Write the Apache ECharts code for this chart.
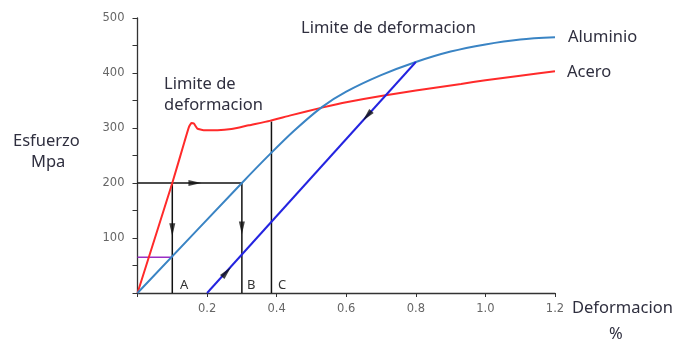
<!DOCTYPE html>
<html><head><meta charset="utf-8">
<script src="https://cdn.jsdelivr.net/npm/echarts@6/dist/echarts.min.js"></script>
<style>html,body{margin:0;padding:0;background:#fff}#c{width:673px;height:343px}</style>
</head><body><div id="c"></div>
<script>
// Acero (steel) stress-strain curve: [strain %, stress MPa]
const aceroX = [0, 0.1, 0.135, 0.148, 0.155, 0.162, 0.172, 0.19, 0.23, 0.27, 0.32, 0.38, 0.44, 0.53, 0.6, 0.7, 0.8, 0.93, 1.0, 1.1, 1.2];
const aceroY = [0, 200, 275, 302, 309, 308, 299, 296, 296, 298, 305, 313, 323, 337, 347, 358, 368, 380, 387, 395, 403];
// Aluminio curve
const alumX = [0, 0.3, 0.38, 0.45, 0.53, 0.6, 0.7, 0.8, 0.9, 1.0, 1.1, 1.2];
const alumY = [0, 200, 252, 295, 338, 366, 396, 420, 439, 452, 461, 465];
// Unloading line
const descargaX = [0.8, 0.2];
const descargaY = [420, 0];
// Construction lines
const horizX = [0, 0.3], horizY = [200, 200];
const vertAX = [0.1, 0.1], vertAY = [200, 0];
const vertBX = [0.3, 0.3], vertBY = [200, 0];
const vertCX = [0.385, 0.385], vertCY = [0, 312];
const moradaX = [0, 0.1], moradaY = [65, 65];
// Arrow heads: position and direction angle (deg)
const arrowX = [0.165, 0.1, 0.3, 0.256, 0.66];
const arrowY = [200, 115, 118, 38, 322];
const arrowRot = [-90, 180, 180, -42, 138];
const xTicks = [0.2, 0.4, 0.6, 0.8, 1.0, 1.2];
const yTicks = [100, 200, 300, 400, 500];

const zip = (a, b) => a.map((v, i) => [v, b[i]]);
const lineS = (x, y, color, w, smooth) => ({type: 'line', data: zip(x, y), symbol: 'none', smooth: smooth || false,
  lineStyle: {color: color, width: w}, silent: true, animation: false, z: 3});

const chart = echarts.init(document.getElementById('c'));
const txt = (t, x, y, size, align, color) => ({type: 'text', left: x, top: y,
  style: {text: t, font: size + 'px "Noto Sans"', fill: color || '#2f2f3f', textAlign: align || 'left'}});
chart.setOption({
  animation: false,
  grid: {left: 137.5, right: 118, top: 18, bottom: 50, containLabel: false},
  xAxis: {type: 'value', min: 0, max: 1.2, interval: 0.2,
    axisLine: {show: true, lineStyle: {color: '#333', width: 1.3}},
    axisTick: {show: true, length: 4, lineStyle: {color: '#333'}},
    splitLine: {show: false},
    axisLabel: {color: '#666', fontSize: 11.5, fontFamily: 'DejaVu Sans', margin: 10,
      formatter: v => { const m = xTicks.find(t => Math.abs(t - v) < 1e-6); return m === undefined ? '' : m.toFixed(1); }}},
  yAxis: {type: 'value', min: 0, max: 500, interval: 50,
    axisLine: {show: true, lineStyle: {color: '#333', width: 1.3}},
    axisTick: {show: true, length: 5, lineStyle: {color: '#333'}},
    splitLine: {show: false},
    axisLabel: {color: '#666', fontSize: 11.5, fontFamily: 'DejaVu Sans', margin: 13,
      formatter: v => yTicks.indexOf(v) >= 0 ? String(v) : ''}},
  series: [
    lineS(horizX, horizY, '#111', 1.5),
    lineS(vertAX, vertAY, '#111', 1.5),
    lineS(vertBX, vertBY, '#111', 1.5),
    lineS(vertCX, vertCY, '#111', 1.5),
    lineS(moradaX, moradaY, '#9a2fc4', 1.5),
    lineS(aceroX, aceroY, '#ff2a2a', 2, 0.15),
    lineS(alumX, alumY, '#3a84c4', 2, 0.3),
    lineS(descargaX, descargaY, '#2424e0', 2),
    {type: 'scatter', data: arrowX.map((x, i) => ({value: [x, arrowY[i]], symbolRotate: arrowRot[i]})),
      symbol: 'triangle', symbolSize: [6, 13], itemStyle: {color: '#111'}, silent: true, z: 5}
  ],
  graphic: [
    txt('Limite de', 164, 76, 16.5),
    txt('deformacion', 164, 97, 16.5),
    txt('Limite de deformacion', 301, 20, 16.5),
    txt('Aluminio', 568, 29, 16.5),
    txt('Acero', 567, 63.5, 16.5),
    txt('Esfuerzo', 13, 132.5, 16.5),
    txt('Mpa', 31, 154, 16.5),
    txt('Deformacion', 572, 300, 16.5),
    txt('%', 609, 326, 16.5),
    txt('A', 180, 278.5, 13, 'left', '#333'),
    txt('B', 247, 278.5, 13, 'left', '#333'),
    txt('C', 278, 278.5, 13, 'left', '#333')
  ]
});
</script></body></html>
